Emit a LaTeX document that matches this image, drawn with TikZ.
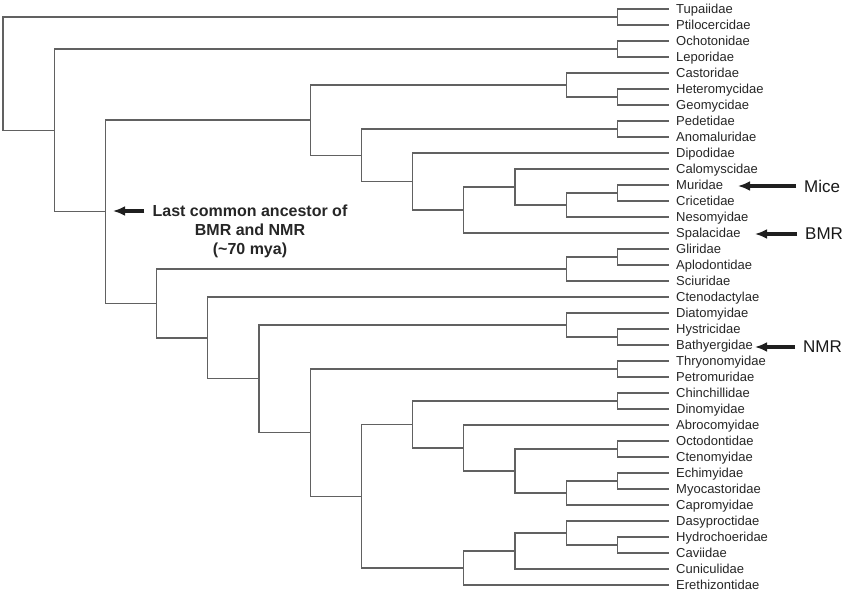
\documentclass[tikz,border=0pt]{standalone}
\usepackage{fontspec}
\setmainfont{Liberation Sans}
\usetikzlibrary{arrows.meta}

\tikzset{
    branch/.style={draw=black!62, line width=1.3pt},
    leaf/.style={anchor=base west, inner sep=0pt, yshift=-4.6pt, text=black!85, font=\fontsize{13}{15}\selectfont},
    tag/.style={anchor=west, inner sep=0pt, text=black!90, font=\fontsize{17}{20}\selectfont},
    note/.style={anchor=north, align=center, inner sep=0pt, text=black!85, font=\bfseries\fontsize{16}{19}\selectfont},
    pointer/.style={draw=black!88, line width=3.2pt, -{Latex[length=12pt,width=10pt]}, shorten <=8pt},
}

\begin{document}
\begin{tikzpicture}[x=1pt,y=-1pt]
    \useasboundingbox (0,0) rectangle (843,594);

    % Leaves of the tree, one row every 16pt
    \foreach \name [count=\i from 0] in {Tupaiidae,Ptilocercidae,Ochotonidae,Leporidae,Castoridae,Heteromycidae,Geomycidae,Pedetidae,Anomaluridae,Dipodidae,Calomyscidae,Muridae,Cricetidae,Nesomyidae,Spalacidae,Gliridae,Aplodontidae,Sciuridae,Ctenodactylae,Diatomyidae,Hystricidae,Bathyergidae,Thryonomyidae,Petromuridae,Chinchillidae,Dinomyidae,Abrocomyidae,Octodontidae,Ctenomyidae,Echimyidae,Myocastoridae,Capromyidae,Dasyproctidae,Hydrochoeridae,Caviidae,Cuniculidae,Erethizontidae} {
        \coordinate (\name) at (668.6,9+16*\i);
        \node[leaf] (lab-\name) at (676,9+16*\i) {\name};
    }

    % Inner nodes (x = one level every 51.2pt)
    \coordinate (root) at (3,73.7);
    \coordinate (tupa) at (617.4,17);
    \coordinate (glires) at (54.2,130.4);
    \coordinate (lago) at (617.4,49);
    \coordinate (rodent) at (105.4,211.8);
    \coordinate (mouse) at (310.2,120.1);
    \coordinate (castor) at (566.2,85);
    \coordinate (hetgeo) at (617.4,97);
    \coordinate (myom) at (361.4,155.25);
    \coordinate (pedet) at (617.4,129);
    \coordinate (dipo) at (412.6,181.5);
    \coordinate (muroid) at (463.8,210);
    \coordinate (calo) at (515,187);
    \coordinate (murnes) at (566.2,205);
    \coordinate (murcri) at (617.4,193);
    \coordinate (squir) at (156.6,303.45);
    \coordinate (sciur) at (566.2,269);
    \coordinate (glirap) at (617.4,257);
    \coordinate (ctenohys) at (207.8,337.9);
    \coordinate (hystrico) at (259,378.8);
    \coordinate (phio) at (566.2,325);
    \coordinate (hysbat) at (617.4,337);
    \coordinate (thrcav) at (310.2,432.6);
    \coordinate (thrpet) at (617.4,369);
    \coordinate (caviom) at (361.4,496.25);
    \coordinate (chinch) at (412.6,424.5);
    \coordinate (chidin) at (617.4,401);
    \coordinate (abro) at (463.8,448);
    \coordinate (octo) at (515,471);
    \coordinate (octcte) at (617.4,449);
    \coordinate (echcap) at (566.2,493);
    \coordinate (echmyo) at (617.4,481);
    \coordinate (ereth) at (463.8,568);
    \coordinate (cuni) at (515,551);
    \coordinate (dasy) at (566.2,533);
    \coordinate (hydcav) at (617.4,545);

    % Branches, parent to child
    \foreach \a/\b in {root/tupa, root/glires,
        tupa/Tupaiidae, tupa/Ptilocercidae,
        glires/lago, glires/rodent,
        lago/Ochotonidae, lago/Leporidae,
        rodent/mouse, rodent/squir,
        mouse/castor, mouse/myom,
        castor/Castoridae, castor/hetgeo,
        hetgeo/Heteromycidae, hetgeo/Geomycidae,
        myom/pedet, myom/dipo,
        pedet/Pedetidae, pedet/Anomaluridae,
        dipo/Dipodidae, dipo/muroid,
        muroid/calo, muroid/Spalacidae,
        calo/Calomyscidae, calo/murnes,
        murnes/murcri, murnes/Nesomyidae,
        murcri/Muridae, murcri/Cricetidae,
        squir/sciur, squir/ctenohys,
        sciur/glirap, sciur/Sciuridae,
        glirap/Gliridae, glirap/Aplodontidae,
        ctenohys/Ctenodactylae, ctenohys/hystrico,
        hystrico/phio, hystrico/thrcav,
        phio/Diatomyidae, phio/hysbat,
        hysbat/Hystricidae, hysbat/Bathyergidae,
        thrcav/thrpet, thrcav/caviom,
        thrpet/Thryonomyidae, thrpet/Petromuridae,
        caviom/chinch, caviom/ereth,
        chinch/chidin, chinch/abro,
        chidin/Chinchillidae, chidin/Dinomyidae,
        abro/Abrocomyidae, abro/octo,
        octo/octcte, octo/echcap,
        octcte/Octodontidae, octcte/Ctenomyidae,
        echcap/echmyo, echcap/Capromyidae,
        echmyo/Echimyidae, echmyo/Myocastoridae,
        ereth/cuni, ereth/Erethizontidae,
        cuni/dasy, cuni/Cuniculidae,
        dasy/Dasyproctidae, dasy/hydcav,
        hydcav/Hydrochoeridae, hydcav/Caviidae} {
        \draw[branch] (\a) |- (\b);
    }

    % Pointers to the families of interest
    \coordinate (mice-tip) at (738,186);
    \node[tag] (mice) at (804,186) {Mice};
    \draw[pointer] (mice.west) -- (mice-tip);

    \coordinate (bmr-tip) at (755,234);
    \node[tag] (bmr) at (805,234) {BMR};
    \draw[pointer] (bmr.west) -- (bmr-tip);

    \coordinate (nmr-tip) at (755,347);
    \node[tag] (nmr) at (803,347) {NMR};
    \draw[pointer] (nmr.west) -- (nmr-tip);

    % Common ancestor note
    \coordinate (lca-tip) at (113,211);
    \node[note] (lca) at (250,205) {Last common ancestor of\\BMR and NMR\\(\textasciitilde70 mya)};
    \draw[pointer] (lca.west |- lca-tip) -- (lca-tip);
\end{tikzpicture}
\end{document}
